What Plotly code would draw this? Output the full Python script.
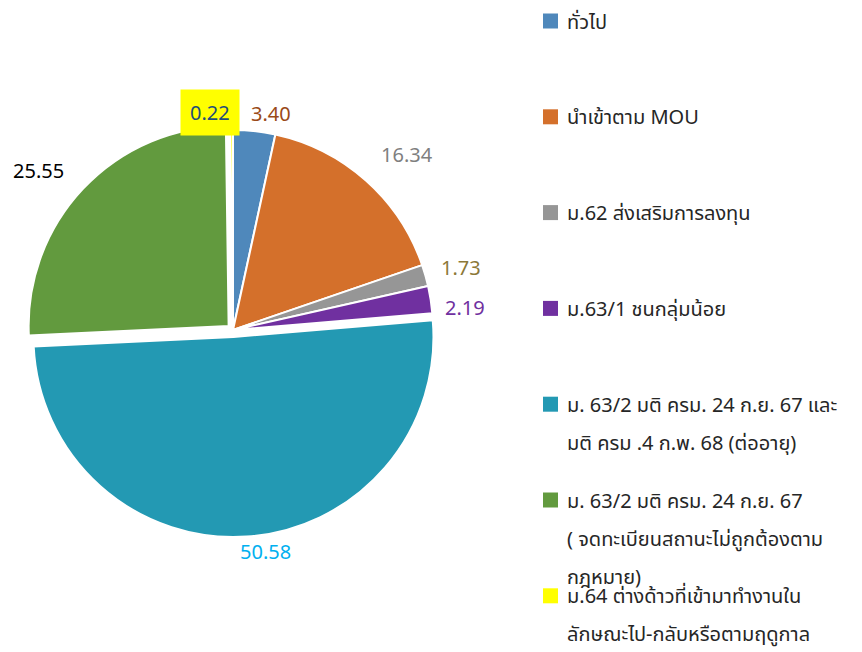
import math
import plotly.graph_objects as go

# Registered foreign workers by category (percent)
categories = [
    "ทั่วไป",
    "นำเข้าตาม MOU",
    "ม.62 ส่งเสริมการลงทุน",
    "ม.63/1 ชนกลุ่มน้อย",
    "ม. 63/2 มติ ครม. 24 ก.ย. 67 และ<br>มติ ครม .4 ก.พ. 68 (ต่ออายุ)",
    "ม. 63/2 มติ ครม. 24 ก.ย. 67<br>( จดทะเบียนสถานะไม่ถูกต้องตาม<br>กฎหมาย)",
    "ม.64 ต่างด้าวที่เข้ามาทำงานใน<br>ลักษณะไป-กลับหรือตามฤดูกาล",
]
values = [3.40, 16.34, 1.73, 2.19, 50.58, 25.55, 0.22]

# styling
slice_colors = ["#4F88BB", "#D4702B", "#969696", "#7030A0", "#2399B3", "#629A3E", "#FFFF00"]
label_colors = ["#9A4A17", "#7F7F7F", "#8C7838", "#7030A0", "#00B0F0", "#000000", "#1F4E79"]
pulls = [0, 0, 0, 0, 0.035, 0.03, 0]
# label nudges in pixels (dx right, dy down) from the radial anchor point
label_nudge = [(15, 2), (28, -11), (16, -2), (15, 11), (17, -5), (-30, -5), (-21, 2)]

W, H = 862, 652
FONT = "Noto Sans, Noto Sans Thai, Tahoma, sans-serif"

# pie box in pixels
cx, cy = 233, 330
box = 414
dom_x = [(cx - box / 2) / W, (cx + box / 2) / W]
dom_y = [1 - (cy + box / 2) / H, 1 - (cy - box / 2) / H]
radius = box / (2 * (1 + max(pulls)))

fig = go.Figure(
    go.Pie(
        labels=categories,
        values=values,
        sort=False,
        direction="clockwise",
        rotation=0,
        pull=pulls,
        marker=dict(colors=slice_colors, line=dict(color="white", width=2)),
        textinfo="none",
        hoverinfo="label+value",
        showlegend=False,
        domain=dict(x=dom_x, y=dom_y),
    )
)

# value labels placed around the pie at each slice's mid angle
total = sum(values)
cum = 0.0
annotations = []
for i, v in enumerate(values):
    mid = (cum + v / 2) / total
    cum += v
    theta = 2 * math.pi * mid
    rr = radius * (1 + pulls[i]) + 20
    px = cx + rr * math.sin(theta) + label_nudge[i][0]
    py = cy - rr * math.cos(theta) + label_nudge[i][1]
    ann = dict(
        x=px / W, y=1 - py / H, xref="paper", yref="paper",
        text=f"{v:.2f}", showarrow=False, xanchor="center", yanchor="middle",
        font=dict(family=FONT, size=20, color=label_colors[i]),
    )
    if slice_colors[i] == "#FFFF00":
        ann.update(bgcolor="#FFFF00", borderpad=9)
    annotations.append(ann)

# legend drawn as swatches and text lines
shapes = []
leg_x_sq, leg_sq, leg_x_txt = 543, 15, 565
row0, row_gap, line_gap = 21, 95.8, 38
for i, name in enumerate(categories):
    yc = row0 + i * row_gap
    shapes.append(dict(
        type="rect", xref="paper", yref="paper",
        x0=leg_x_sq / W, x1=(leg_x_sq + leg_sq) / W,
        y0=1 - (yc + leg_sq / 2) / H, y1=1 - (yc - leg_sq / 2) / H,
        fillcolor=slice_colors[i], line=dict(width=0),
    ))
    for j, line in enumerate(name.split("<br>")):
        annotations.append(dict(
            x=leg_x_txt / W, y=1 - (yc + j * line_gap) / H,
            xref="paper", yref="paper", text=line, showarrow=False,
            xanchor="left", yanchor="middle",
            font=dict(family=FONT, size=20, color="#262626"),
        ))

fig.update_layout(
    width=W, height=H,
    margin=dict(l=0, r=0, t=0, b=0),
    paper_bgcolor="white", plot_bgcolor="white",
    annotations=annotations, shapes=shapes,
)

fig.write_html("out.html")
